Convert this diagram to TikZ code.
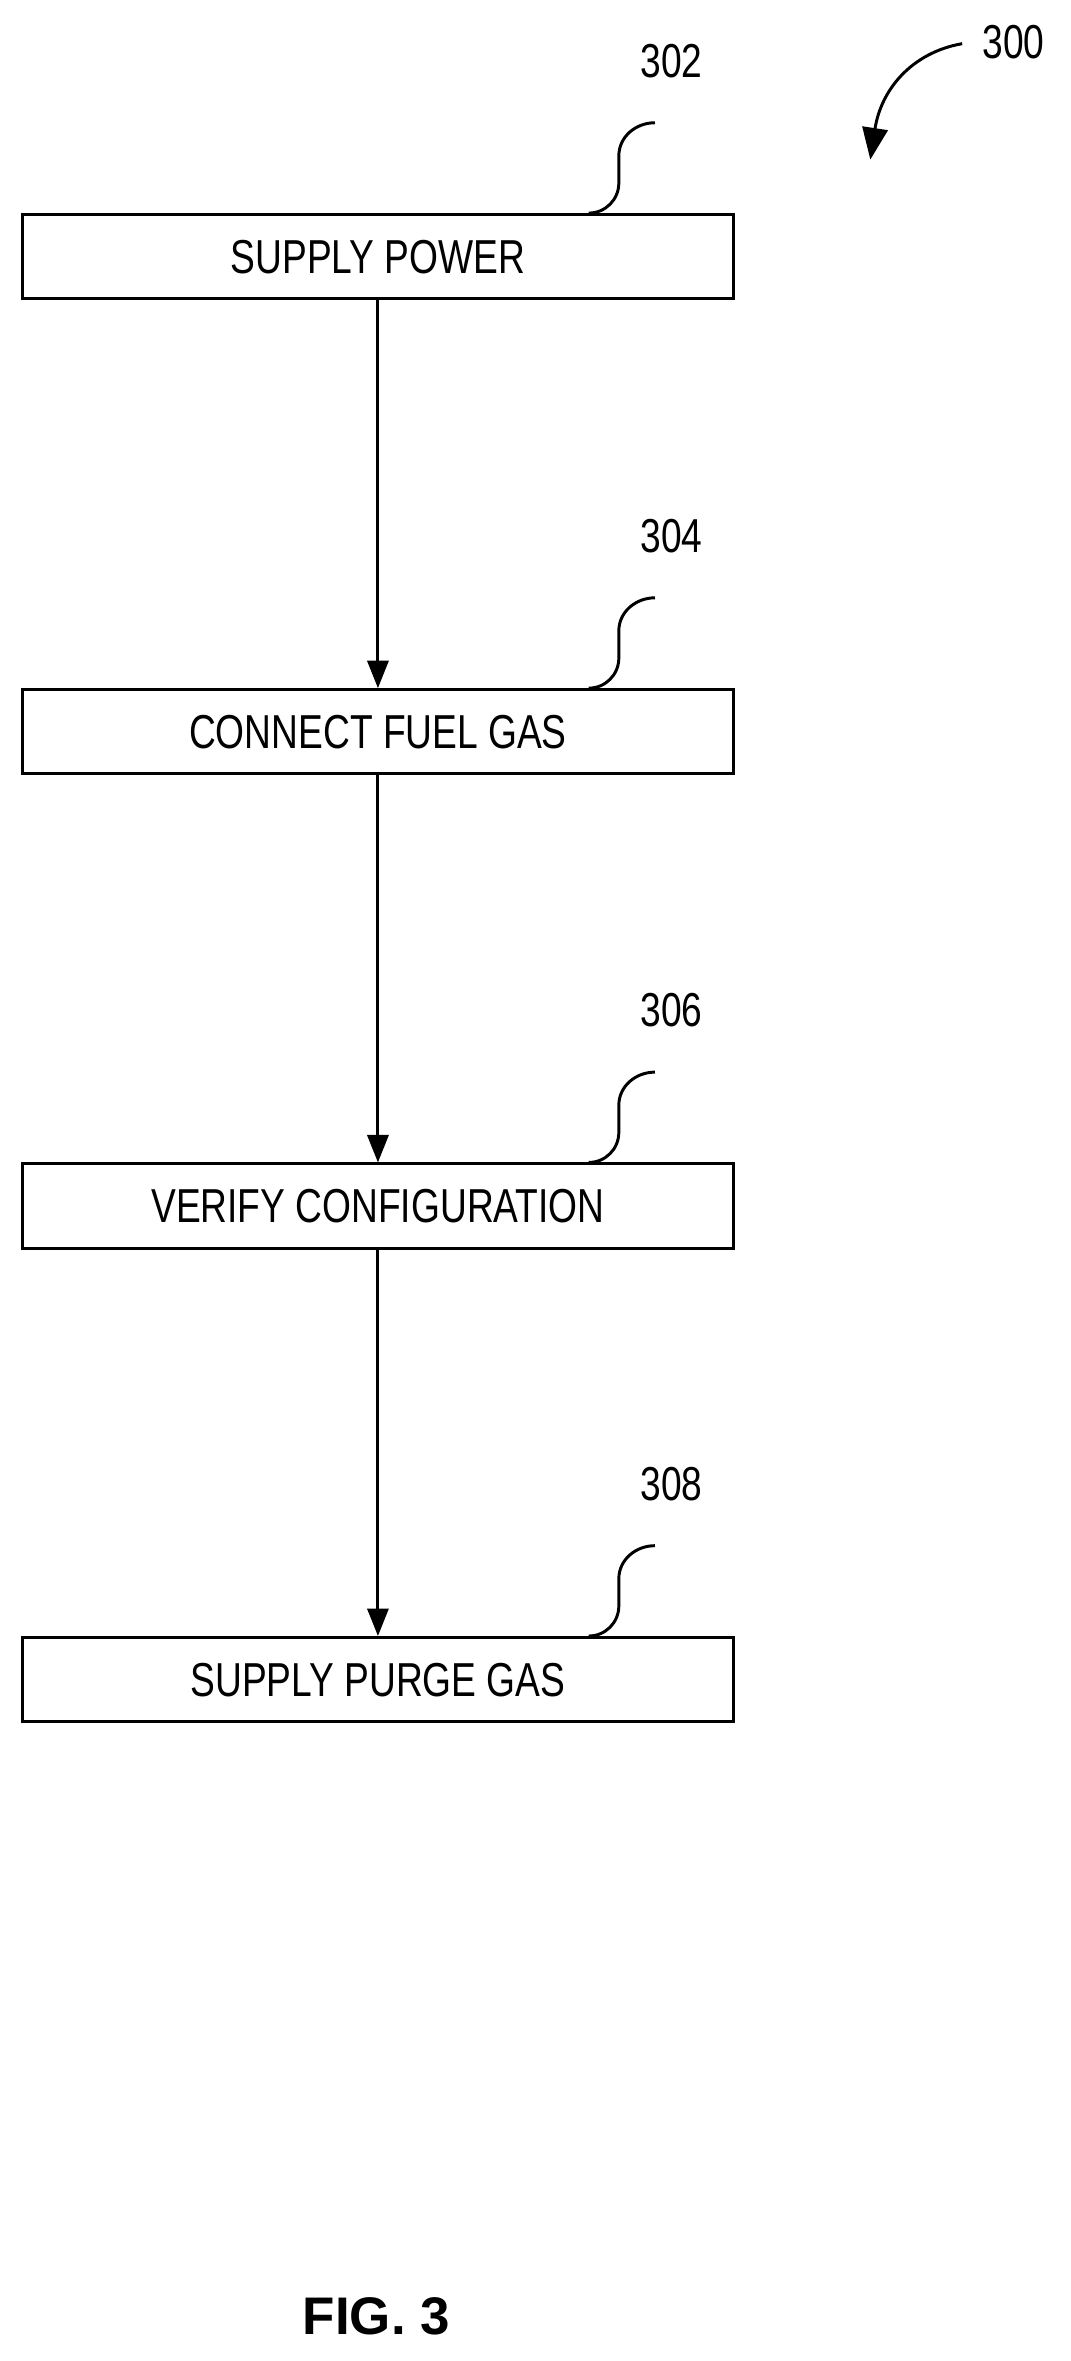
\documentclass[tikz,border=0pt]{standalone}
\usepackage{fontspec}
\setmainfont{Liberation Sans}
\usepackage{graphicx}
\usetikzlibrary{arrows.meta,positioning}
\newcommand{\cond}[1]{\scalebox{0.78}[1]{#1}}
\begin{document}
\begin{tikzpicture}[x=0.05cm, y=-0.05cm]
        \tikzset{task/.style={draw, line width=2.8pt, minimum width=23.6cm, minimum height=2.8cm, inner sep=0pt, font=\fontsize{45}{50}\selectfont}}
        \tikzset{ref/.style={font=\fontsize{45}{50}\selectfont}}
        \tikzset{flow/.style={-{Triangle[length=26pt, width=20pt]}, line width=2.8pt}}
        \useasboundingbox (0,0) rectangle (711,1568);

        \node [task] (s1) at (251,170.5) {\cond{SUPPLY POWER}};
        \node [task] (s2) at (251,486) {\cond{CONNECT FUEL GAS}};
        \node [task] (s3) at (251,801) {\cond{VERIFY CONFIGURATION}};
        \node [task] (s4) at (251,1115.5) {\cond{SUPPLY PURGE GAS}};

        \draw [flow] (s1) -- (s2);
        \draw [flow] (s2) -- (s3);
        \draw [flow] (s3) -- (s4);

        % reference numerals
        \foreach \n/\s in {302/s1, 304/s2, 306/s3, 308/s4} {
            \coordinate (c\n) at ([xshift=-4.85cm]\s.north east);
            \node [ref] (l\n) at ([xshift=2.75cm, yshift=5.05cm]c\n) {\cond{\n}};
            \draw [line width=2.8pt] (c\n) to[out=0, in=-90] ++(20,-20) -- ++(0,-18) to[out=90, in=180] ++(24,-22);
        }

        \node [ref] (l300) at (673,28) {\cond{300}};
        \coordinate (a300) at (639,29);
        \draw [line width=2.8pt, -{Triangle[length=30pt, width=24pt]}] (a300) .. controls (605,35) and (585,60) .. (578,106);

        \node [font=\fontsize{50}{55}\selectfont\bfseries] (fig) at (250,1538) {FIG. 3};
\end{tikzpicture}
\end{document}
